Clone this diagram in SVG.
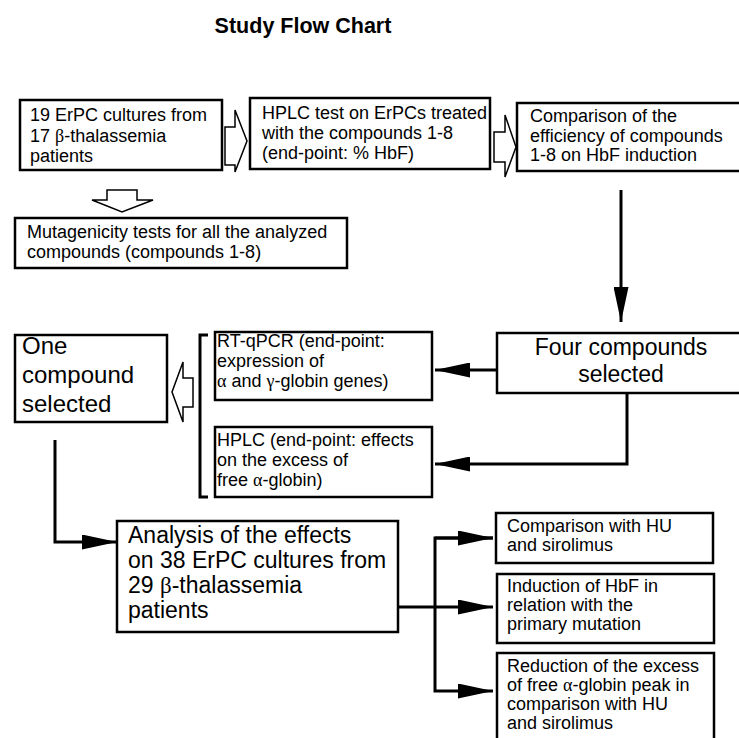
<svg xmlns="http://www.w3.org/2000/svg" width="739" height="738" viewBox="0 0 739 738">
<style>
.box{fill:#fff;stroke:#000;stroke-width:2.5}
.t{font-family:"Liberation Sans",Arial,sans-serif;font-size:18px;fill:#000}
.t23{font-family:"Liberation Sans",Arial,sans-serif;font-size:23px;fill:#000}
.t24{font-family:"Liberation Sans",Arial,sans-serif;font-size:24px;fill:#000}
.g{font-family:"Liberation Serif","Times New Roman",serif}
.ln{fill:none;stroke:#000;stroke-width:3}
.open{fill:#fff;stroke:#000;stroke-width:1.5;stroke-linejoin:miter}
</style>
<defs>
<marker id="ah" markerWidth="35" markerHeight="15" refX="35" refY="7.5" orient="auto" markerUnits="userSpaceOnUse">
<path d="M0,0 L35,7.5 L0,15 Z" fill="#000"/>
</marker>
</defs>
<rect width="739" height="738" fill="#fff"/>
<text x="303" y="33" text-anchor="middle" style="font-family:'Liberation Sans',Arial,sans-serif;font-size:21.5px;font-weight:bold">Study Flow Chart</text>

<g id="n1"><rect class="box" x="20" y="100" width="202" height="70"/>
<text class="t" x="30" y="121">19 ErPC cultures from</text>
<text class="t" x="30" y="142">17 <tspan class="g">β</tspan>-thalassemia</text>
<text class="t" x="30" y="162">patients</text></g>

<g id="n2"><rect class="box" x="250" y="98" width="240" height="71"/>
<text class="t" x="262" y="119">HPLC test on ErPCs treated</text>
<text class="t" x="262" y="139">with the compounds 1-8</text>
<text class="t" x="262" y="159">(end-point: % HbF)</text></g>

<g id="n3"><rect class="box" x="517" y="103" width="240" height="68"/>
<text class="t" x="530" y="122">Comparison of the</text>
<text class="t" x="530" y="142">efficiency of compounds</text>
<text class="t" x="530" y="161">1-8 on HbF induction</text></g>

<g id="n4"><rect class="box" x="15" y="218" width="332" height="50"/>
<text class="t" x="27" y="238">Mutagenicity tests for all the analyzed</text>
<text class="t" x="27" y="258">compounds (compounds 1-8)</text></g>

<g id="n5"><rect class="box" x="15" y="335" width="152" height="87"/>
<text class="t24" x="22" y="354">One</text>
<text class="t24" x="22" y="383">compound</text>
<text class="t24" x="22" y="412">selected</text></g>

<g id="n6"><rect class="box" x="215" y="332" width="217" height="68"/>
<text class="t" x="217" y="347">RT-qPCR (end-point:</text>
<text class="t" x="217" y="367">expression of</text>
<text class="t" x="217" y="387"><tspan class="g">α</tspan> and <tspan class="g">γ</tspan>-globin genes)</text></g>

<g id="n7"><rect class="box" x="215" y="427" width="217" height="70"/>
<text class="t" x="217" y="446">HPLC (end-point: effects</text>
<text class="t" x="217" y="466">on the excess of</text>
<text class="t" x="217" y="486">free <tspan class="g">α</tspan>-globin)</text></g>

<g id="n8"><rect class="box" x="497" y="333" width="260" height="60"/>
<text class="t23" x="621" y="355" text-anchor="middle">Four compounds</text>
<text class="t23" x="621" y="382" text-anchor="middle">selected</text></g>

<g id="n9"><rect class="box" x="117" y="521" width="281" height="111"/>
<text class="t23" x="128" y="543">Analysis of the effects</text>
<text class="t23" x="128" y="568">on 38 ErPC cultures from</text>
<text class="t23" x="128" y="593">29 <tspan class="g">β</tspan>-thalassemia</text>
<text class="t23" x="128" y="618">patients</text></g>

<g id="n10"><rect class="box" x="496" y="513" width="217" height="50"/>
<text class="t" x="507" y="532">Comparison with HU</text>
<text class="t" x="507" y="551">and sirolimus</text></g>

<g id="n11"><rect class="box" x="497" y="574" width="217" height="69"/>
<text class="t" x="507" y="592">Induction of HbF in</text>
<text class="t" x="507" y="611">relation with the</text>
<text class="t" x="507" y="630">primary mutation</text></g>

<g id="n12"><rect class="box" x="497" y="653" width="217" height="100"/>
<text class="t" x="507" y="672">Reduction of the excess</text>
<text class="t" x="507" y="691">of free <tspan class="g">α</tspan>-globin peak in</text>
<text class="t" x="507" y="710">comparison with HU</text>
<text class="t" x="507" y="729">and sirolimus</text></g>

<g id="connectors">
<polygon class="open" points="225,127 235,127 235,110 247,141 235,172 235,165 225,165"/>
<polygon class="open" points="494,132 505,132 505,115 516,147 505,177 505,162 494,162"/>
<polygon class="open" points="107,190 137,190 137,200 153,200 122,212 92,200 107,200"/>
<polygon class="open" points="193,378 193,407 183,407 183,422 172,392 183,362 183,378"/>
<path class="ln" d="M208,335 H200 V497 H208"/>
<path class="ln" d="M621,190 V322" marker-end="url(#ah)"/>
<path class="ln" d="M497,370 H435" marker-end="url(#ah)"/>
<path class="ln" d="M627,393 V464 H435" marker-end="url(#ah)"/>
<path class="ln" d="M55,440 V542 H117" marker-end="url(#ah)"/>
<path class="ln" d="M398,607 H493" marker-end="url(#ah)"/>
<path class="ln" d="M493,538 H435 V691 H493" marker-end="url(#ah)"/>
<path class="ln" d="M435,538 H493" marker-end="url(#ah)"/>
</g>
</svg>
